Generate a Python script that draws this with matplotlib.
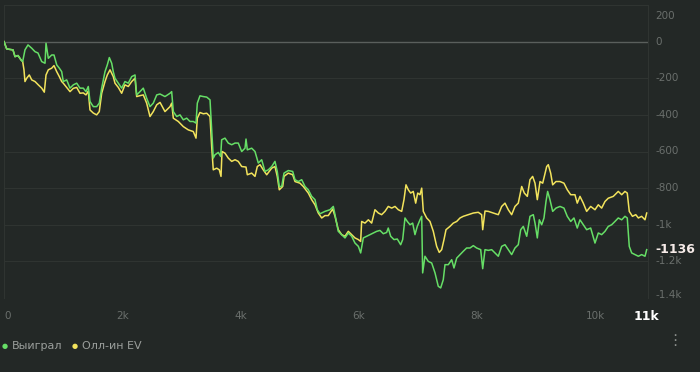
import numpy as np
import matplotlib.pyplot as plt
from matplotlib import transforms

# series (hand number, cumulative result)
won_hands = [0, 46, 152, 186, 237, 288, 316, 355, 406, 469, 525, 575, 638, 694, 711, 750,
             807, 846, 892, 936, 976, 1003, 1061, 1117, 1173, 1230, 1286, 1342, 1387, 1426,
             1455, 1511, 1568, 1612, 1653, 1709, 1748, 1782, 1822, 1849, 1878, 1934, 1991,
             2047, 2103, 2161, 2217, 2245, 2301, 2357, 2414, 2470, 2526, 2584, 2640, 2724,
             2809, 2837, 2865, 2922, 2978, 3034, 3091, 3147, 3203, 3249, 3271, 3316, 3372,
             3430, 3486, 3514, 3541, 3570, 3626, 3666, 3683, 3739, 3795, 3853, 3909, 3964,
             4022, 4078, 4095, 4117, 4191, 4247, 4303, 4360, 4416, 4472, 4530, 4585, 4624,
             4658, 4699, 4738, 4810, 4885, 4924, 4980, 5037, 5093, 5149, 5206, 5262, 5301,
             5347, 5431, 5516, 5572, 5601, 5656, 5714, 5770, 5826, 5883, 5939, 5996, 6035,
             6080, 6137, 6193, 6249, 6306, 6362, 6418, 6475, 6502, 6543, 6599, 6655, 6712,
             6746, 6785, 6824, 6870, 6915, 6954, 6993, 7039, 7068, 7084, 7123, 7179, 7237,
             7293, 7348, 7389, 7433, 7462, 7518, 7575, 7614, 7660, 7716, 7771, 7828, 7885,
             7941, 7998, 8066, 8100, 8139, 8195, 8252, 8308, 8364, 8421, 8477, 8533, 8590,
             8646, 8702, 8743, 8787, 8845, 8900, 8956, 8985, 9024, 9058, 9098, 9137, 9171,
             9199, 9238, 9284, 9340, 9408, 9475, 9531, 9589, 9644, 9700, 9746, 9802, 9859,
             9927, 10000, 10056, 10113, 10169, 10225, 10282, 10338, 10394, 10452, 10507,
             10546, 10580, 10621, 10677, 10734, 10790, 10846, 10875]
won_vals = [0, -40, -45, -82, -76, -100, -109, -45, -18, -36, -55, -62, -109, -118, -9, -91,
            -73, -73, -127, -145, -164, -218, -209, -254, -236, -227, -254, -254, -273, -245,
            -327, -355, -355, -336, -254, -164, -127, -87, -118, -164, -200, -227, -254,
            -218, -227, -191, -182, -291, -273, -254, -309, -355, -336, -291, -286, -300,
            -282, -273, -382, -409, -400, -427, -418, -436, -436, -445, -336, -296, -300,
            -303, -318, -482, -636, -618, -605, -627, -536, -527, -554, -563, -554, -554,
            -600, -582, -532, -591, -582, -600, -663, -645, -709, -700, -682, -654, -709,
            -791, -791, -718, -704, -709, -754, -764, -754, -791, -809, -845, -863, -918,
            -940, -927, -918, -900, -945, -1036, -1054, -1072, -1045, -1063, -1100, -1118, -1154,
            -1072, -1063, -1054, -1045, -1036, -1031, -1049, -1042, -1018, -1063, -1081, -1078, -1109,
            -1081, -963, -982, -1000, -991, -1054, -1009, -973, -954, -1263, -1172, -1200, -1209,
            -1263, -1336, -1345, -1300, -1218, -1218, -1191, -1236, -1182, -1163, -1145, -1127, -1127,
            -1114, -1127, -1136, -1240, -1136, -1140, -1136, -1154, -1172, -1118, -1109, -1136, -1163,
            -1127, -1109, -1027, -1009, -1063, -954, -945, -991, -1072, -973, -1000, -963, -873,
            -818, -863, -927, -909, -900, -909, -954, -982, -963, -1018, -973, -1000, -1027,
            -1018, -1100, -1045, -1054, -1036, -1009, -1000, -982, -963, -973, -954,
            -963, -1118, -1154, -1163, -1172, -1163, -1172, -1136]

ev_hands = [0, 46, 152, 186, 237, 288, 316, 338, 355, 384, 428, 469, 525, 580, 638, 682, 711,
            750, 807, 846, 892, 936, 976, 1003, 1117, 1173, 1230, 1286, 1342, 1387, 1426, 1455,
            1511, 1568, 1612, 1653, 1709, 1748, 1794, 1849, 1878, 1934, 1991, 2047, 2103, 2161,
            2217, 2245, 2301, 2357, 2414, 2470, 2526, 2584, 2640, 2724, 2809, 2837, 2865, 2949,
            3034, 3119, 3203, 3249, 3271, 3316, 3372, 3430, 3486, 3514, 3541, 3599, 3643, 3672,
            3689, 3739, 3795, 3853, 3909, 3964, 4022, 4095, 4117, 4191, 4247, 4286, 4332, 4387,
            4445, 4530, 4585, 4624, 4658, 4716, 4738, 4810, 4885, 4924, 5008, 5064, 5149, 5206,
            5262, 5318, 5376, 5431, 5487, 5562, 5601, 5656, 5714, 5770, 5826, 5883, 5939, 5996,
            6035, 6052, 6108, 6165, 6221, 6277, 6334, 6390, 6446, 6502, 6560, 6616, 6672, 6729,
            6768, 6802, 6841, 6881, 6925, 6966, 7000, 7039, 7068, 7095, 7152, 7208, 7264, 7321,
            7365, 7406, 7445, 7479, 7546, 7602, 7660, 7716, 7771, 7856, 7941, 8025, 8082, 8100,
            8139, 8195, 8279, 8364, 8421, 8477, 8533, 8590, 8646, 8702, 8760, 8804, 8855, 8900,
            8945, 8985, 9024, 9070, 9115, 9142, 9183, 9210, 9250, 9284, 9340, 9408, 9475, 9531,
            9589, 9661, 9700, 9746, 9802, 9859, 9927, 10000, 10056, 10113, 10169, 10225, 10310,
            10394, 10452, 10507, 10546, 10580, 10634, 10690, 10734, 10790, 10846, 10875]
ev_vals = [0, -40, -45, -82, -76, -100, -109, -154, -218, -200, -182, -209, -218, -236, -254,
           -276, -182, -154, -145, -131, -164, -191, -218, -227, -273, -255, -250, -282, -280,
           -291, -270, -373, -390, -400, -382, -282, -218, -182, -154, -191, -227, -250, -282,
           -236, -245, -218, -200, -300, -295, -291, -336, -409, -382, -345, -332, -382, -355,
           -336, -418, -436, -464, -482, -491, -527, -418, -387, -394, -391, -409, -573, -700,
           -691, -700, -736, -600, -609, -636, -654, -645, -654, -682, -685, -727, -718, -736,
           -682, -672, -700, -727, -691, -682, -736, -809, -791, -736, -718, -727, -764, -773,
           -791, -827, -863, -891, -936, -963, -950, -950, -914, -954, -1027, -1054, -1063,
           -1036, -1054, -1072, -1081, -1091, -982, -991, -973, -991, -918, -936, -945, -927,
           -900, -909, -900, -918, -927, -863, -782, -809, -827, -818, -882, -827, -836, -800,
           -927, -963, -982, -1036, -1118, -1151, -1136, -1081, -1027, -1009, -991, -982, -963,
           -954, -945, -936, -932, -945, -1027, -925, -927, -936, -945, -900, -882, -918, -945,
           -900, -882, -791, -827, -845, -754, -736, -773, -863, -764, -773, -736, -682, -672,
           -718, -782, -764, -764, -773, -809, -836, -836, -882, -845, -882, -927, -900, -918,
           -891, -909, -873, -855, -845, -818, -836, -818, -827, -927, -954, -945, -963, -954,
           -973, -936]

y_ticks = [200, 0, -200, -400, -600, -800, -1000, -1200, -1400]
y_labels = ['200', '0', '-200', '-400', '-600', '-800', '-1k', '-1.2k', '-1.4k']
x_ticks = [0, 2000, 4000, 6000, 8000, 10000]
x_labels = ['0', '2k', '4k', '6k', '8k', '10k']
series_names = ['Выиграл', 'Олл-ин EV']

bg = '#232826'
grid = '#2f3431'
tick_col = '#6a6f6c'
green = '#66de66'
yellow = '#f2e35c'

fig = plt.figure(figsize=(7, 3.72), dpi=100, facecolor=bg)
ax = fig.add_axes([4 / 700, 1 - 298 / 372, 644 / 700, 293 / 372])
ax.set_facecolor(bg)

ax.plot(ev_hands, ev_vals, color=yellow, lw=1.1, zorder=3)
ax.plot(won_hands, won_vals, color=green, lw=1.1, zorder=4)

ax.set_xlim(0, 10897)
ax.set_ylim(-1400, 200)
for v in y_ticks:
    ax.axhline(v, color='#5a5f5c' if v == 0 else grid, lw=1.0 if v == 0 else 0.8, zorder=1)

for s in ['top', 'bottom']:
    ax.spines[s].set_visible(False)
for s in ['left', 'right']:
    ax.spines[s].set_color(grid)
    ax.spines[s].set_linewidth(0.8)
ax.set_xticks([])
ax.set_yticks([])

# y labels on the right, edge labels kept inside the plot height
ytr = transforms.blended_transform_factory(ax.transAxes, ax.transData)
for v, lab in zip(y_ticks, y_labels):
    dy = 0
    if v == y_ticks[0]:
        dy = -8
    elif v == y_ticks[-1]:
        dy = 2
    tr = transforms.offset_copy(ytr, fig=fig, x=0, y=dy, units='points')
    ax.text(1.012, v, lab, transform=tr, ha='left', va='center',
            color=tick_col, fontsize=7.5)

last_val = won_vals[-1]
ax.text(1.012, last_val, str(last_val), transform=ytr, ha='left', va='center',
        color='#f6ebe8', fontsize=9, fontweight='bold')

xtr = transforms.blended_transform_factory(ax.transData, ax.transAxes)
for v, lab in zip(x_ticks, x_labels):
    ax.text(v, -0.062, lab, transform=xtr, ha='left' if v == 0 else 'center',
            va='center', color=tick_col, fontsize=7.5)
ax.text(won_hands[-1], -0.062, '11k', transform=xtr, ha='center', va='center',
        color='white', fontsize=9, fontweight='bold')

# legend
fig.text(5 / 700, 1 - 346 / 372, '●', color=green, fontsize=5, ha='center', va='center')
fig.text(12 / 700, 1 - 346 / 372, series_names[0], color='#9a9e9b', fontsize=8, va='center')
fig.text(75 / 700, 1 - 346 / 372, '●', color=yellow, fontsize=5, ha='center', va='center')
fig.text(82 / 700, 1 - 346 / 372, series_names[1], color='#9a9e9b', fontsize=8, va='center')
fig.text(675 / 700, 1 - 341 / 372, '⋮', color='#8a8e8b', fontsize=11, ha='center', va='center')

fig.savefig('out.png', dpi=100, facecolor=bg)
